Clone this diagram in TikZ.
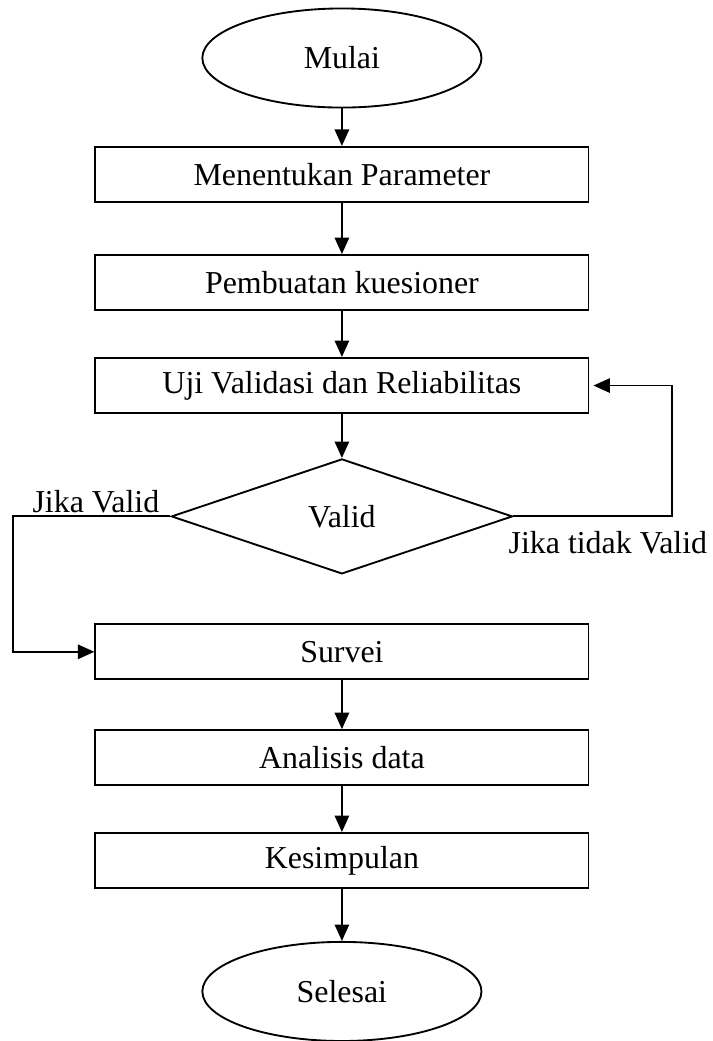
\documentclass[tikz,border=0pt]{standalone}
\usepackage{fontspec}
\setmainfont{Liberation Serif}
\usetikzlibrary{shapes.geometric,arrows.meta,positioning}

\tikzstyle{startstop} = [ellipse, draw, line width=0.7pt, minimum width=3.69cm, minimum height=1.31cm]
\tikzstyle{process} = [rectangle, draw, line width=0.7pt, minimum width=6.52cm, minimum height=0.73cm]
\tikzstyle{decision} = [diamond, draw, line width=0.7pt, minimum width=4.51cm, minimum height=1.52cm, inner sep=0pt]
\tikzstyle{arrow} = [line width=0.7pt,->,>={Triangle[length=6.2pt,width=5.4pt]}]

\begin{document}
\begin{tikzpicture}[node distance=1.4cm, font=\fontsize{12pt}{14pt}\selectfont]
\useasboundingbox (-4.52,0.767) rectangle (4.905,-12.995);

\node (mulai) [startstop] {Mulai};
\node (param) [process, below of=mulai, yshift=-0.14cm] {Menentukan Parameter};
\node (kuesioner) [process, below of=param, yshift=-0.03cm] {Pembuatan kuesioner};
\node (uji) [process, below of=kuesioner, yshift=0.04cm] {Uji Validasi dan Reliabilitas};
\node (valid) [decision, below of=uji, yshift=-0.33cm] {Valid};
\node (survei) [process, below of=valid, yshift=-0.39cm] {Survei};
\node (analisis) [process, below of=survei] {Analisis data};
\node (kesimpulan) [process, below of=analisis, yshift=0.04cm] {Kesimpulan};
\node (selesai) [startstop, below of=kesimpulan, yshift=-0.33cm] {Selesai};

\node (jikavalid) [anchor=south east, inner sep=1pt, xshift=-3pt] at (valid.west) {Jika Valid};
\node (tidakvalid) [anchor=north west, inner sep=1pt, xshift=-3pt, yshift=-4.5pt] at (valid.east) {Jika tidak Valid};

\draw [arrow] (mulai) -- (param);
\draw [arrow] (param) -- (kuesioner);
\draw [arrow] (kuesioner) -- (uji);
\draw [arrow] (uji) -- (valid);
\draw [arrow] (valid.west) -- ++(-2.08,0) |- (survei.west);
\draw [arrow, shorten >=1.5pt] (valid.east) -- ++(2.1,0) |- (uji.east);
\draw [arrow] (survei) -- (analisis);
\draw [arrow] (analisis) -- (kesimpulan);
\draw [arrow] (kesimpulan) -- (selesai);

\end{tikzpicture}
\end{document}
